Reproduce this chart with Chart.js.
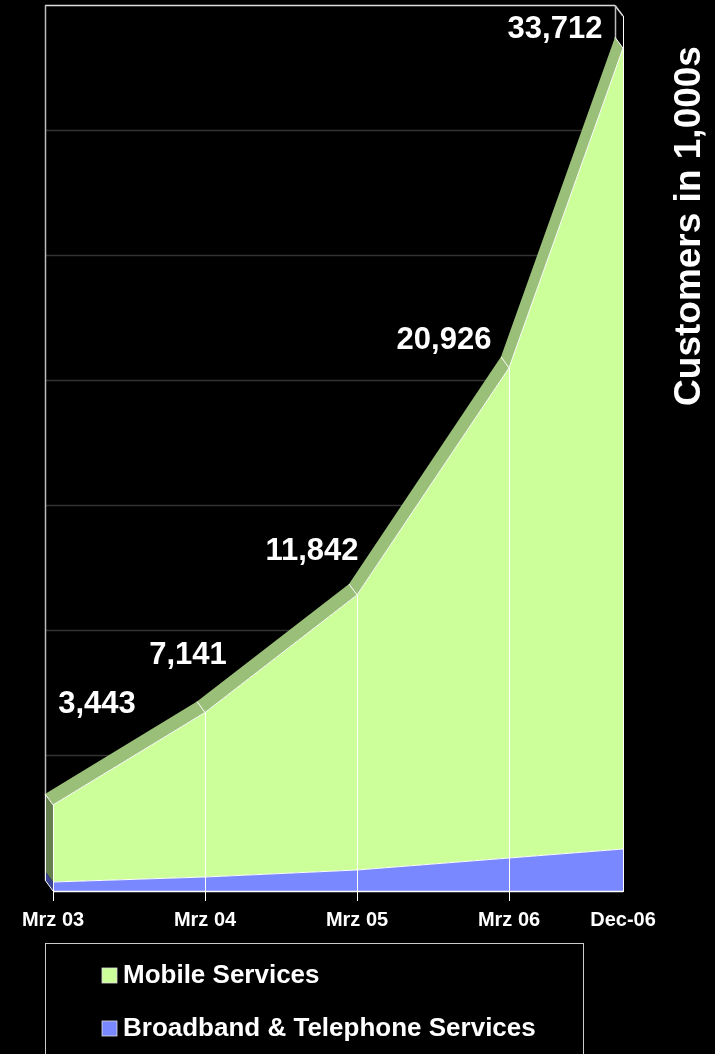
<!DOCTYPE html>
<html>
<head>
<meta charset="utf-8">
<script src="https://cdn.jsdelivr.net/npm/chart.js@4/dist/chart.umd.min.js"></script>
<style>
  html, body { margin: 0; padding: 0; background: #000; }
  #wrap { width: 715px; height: 1054px; }
  canvas { display: block; }
</style>
</head>
<body>
<div id="wrap"><canvas id="c" width="715" height="1054"></canvas></div>
<script>
// Customer figures (in thousands)
const categories = ['Mrz 03', 'Mrz 04', 'Mrz 05', 'Mrz 06', 'Dec-06'];
const monthsSinceMar03 = [0, 12, 24, 36, 45];
const totalCustomers = [3443, 7141, 11842, 20926, 33712];
const broadbandCustomers = [360, 560, 840, 1320, 1680];
const yGridValues = [0, 5000, 10000, 15000, 20000, 25000, 30000, 35000];
const seriesNames = ['Mobile Services', 'Broadband & Telephone Services'];
const axisTitle = 'Customers in 1,000s';

// Styling
const FONT = "'Liberation Sans', Arial, Helvetica, sans-serif";
const COLORS = {
  mobile: '#CCFF99',
  mobileTop: '#9ABF78',
  mobileSide: '#667F4F',
  broadband: '#7A88FF',
  broadbandSide: '#3B4590',
  grid: '#333333',
  wall: '#BBBBBB'
};
const DEPTH = { dx: -8, dy: -11 };
// where each value label sits relative to its data point
const labelShift = [[44, -100], [-17, -57], [-45, -43], [-65, -27], [-68, -19]];

const pts = (vals) => vals.map((v, i) => ({ x: monthsSinceMar03[i], y: v }));

function line(ctx, x1, y1, x2, y2) {
  ctx.beginPath(); ctx.moveTo(x1, y1); ctx.lineTo(x2, y2); ctx.stroke();
}
function poly(ctx, p, fill) {
  ctx.beginPath();
  p.forEach((q, i) => i ? ctx.lineTo(q[0], q[1]) : ctx.moveTo(q[0], q[1]));
  ctx.closePath(); ctx.fillStyle = fill; ctx.fill();
}

const depthPlugin = {
  id: 'depthPlugin',
  beforeDraw(chart) {
    const c = chart.ctx;
    c.save(); c.fillStyle = '#000'; c.fillRect(0, 0, chart.width, chart.height); c.restore();
  },
  beforeDatasetsDraw(chart) {
    const { ctx, scales: { x, y }, chartArea: a } = chart;
    const { dx, dy } = DEPTH;
    ctx.save();
    // back wall grid
    ctx.strokeStyle = COLORS.grid; ctx.lineWidth = 1.5;
    yGridValues.slice(1, -1).forEach(v => {
      const py = Math.round(y.getPixelForValue(v) + dy) + 0.5;
      line(ctx, a.left + dx, py, a.right + dx, py);
    });
    const topBack = Math.round(y.getPixelForValue(yGridValues[yGridValues.length - 1]) + dy) + 0.5;
    const zeroBack = y.getPixelForValue(0) + dy;
    ctx.strokeStyle = '#DDDDDD'; ctx.lineWidth = 1.5;
    line(ctx, a.left + dx, topBack, a.right + dx, topBack);
    line(ctx, a.right + dx, topBack, a.right, a.top);
    ctx.strokeStyle = COLORS.wall;
    line(ctx, a.left + dx + 0.5, topBack, a.left + dx + 0.5, zeroBack);
    line(ctx, a.right + dx + 0.5, topBack, a.right + dx + 0.5, zeroBack);

    // top surface of the stacked area
    const front = totalCustomers.map((v, i) => [x.getPixelForValue(monthsSinceMar03[i]), y.getPixelForValue(v)]);
    const back = front.map(p => [p[0] + dx, p[1] + dy]);
    poly(ctx, back.concat(front.slice().reverse()), COLORS.mobileTop);

    // left side faces
    const xl = x.getPixelForValue(monthsSinceMar03[0]);
    const yt = y.getPixelForValue(totalCustomers[0]);
    const yb = y.getPixelForValue(broadbandCustomers[0]);
    const y0 = y.getPixelForValue(0);
    poly(ctx, [[xl + dx, yt + dy], [xl, yt], [xl, yb], [xl + dx, yb + dy]], COLORS.mobileSide);
    poly(ctx, [[xl + dx, yb + dy], [xl, yb], [xl, y0], [xl + dx, y0 + dy]], COLORS.broadbandSide);
    ctx.restore();
  },
  afterDatasetsDraw(chart) {
    const { ctx, scales: { x, y }, chartArea: a } = chart;
    const { dx, dy } = DEPTH;
    const y0 = y.getPixelForValue(0);
    ctx.save();
    ctx.strokeStyle = '#FFFFFF'; ctx.lineWidth = 1;
    totalCustomers.forEach((v, i) => {
      const px = x.getPixelForValue(monthsSinceMar03[i]);
      const py = y.getPixelForValue(v);
      line(ctx, px + dx, py + dy, px, py);
      const vx = Math.round(px) + 0.5;
      line(ctx, vx, py, vx, y0);
    });
    // left back edge and base corner
    const xl = x.getPixelForValue(monthsSinceMar03[0]);
    const yt = y.getPixelForValue(totalCustomers[0]);
    line(ctx, xl + dx + 0.5, yt + dy, xl + dx + 0.5, y0 + dy);
    line(ctx, xl + dx, y0 + dy, xl, y0);
    // front right edge and baseline
    line(ctx, Math.round(a.right) + 0.5, a.top, Math.round(a.right) + 0.5, y0);
    ctx.lineWidth = 1.5;
    line(ctx, xl, Math.round(y0) + 0.5, a.right, Math.round(y0) + 0.5);

    // value labels
    ctx.fillStyle = '#FFFFFF';
    ctx.font = `bold 31px ${FONT}`;
    ctx.textAlign = 'center'; ctx.textBaseline = 'middle';
    totalCustomers.forEach((v, i) => {
      const px = x.getPixelForValue(monthsSinceMar03[i]);
      const py = y.getPixelForValue(v);
      ctx.fillText(v.toLocaleString('en-US'), px + labelShift[i][0], py + labelShift[i][1]);
    });

    // axis title on the right
    ctx.save();
    ctx.translate(690, 226);
    ctx.rotate(-Math.PI / 2);
    ctx.font = `bold 37px ${FONT}`;
    ctx.fillText(axisTitle, 0, 0);
    ctx.restore();

    // legend box
    ctx.strokeStyle = '#CCCCCC'; ctx.lineWidth = 1;
    ctx.strokeRect(45.5, 943.5, 538, 140);
    const swatch = [COLORS.mobile, COLORS.broadband];
    const rows = [976, 1029];
    ctx.font = `bold 26px ${FONT}`;
    ctx.textAlign = 'left';
    seriesNames.forEach((name, i) => {
      ctx.fillStyle = swatch[i];
      ctx.fillRect(102, rows[i] - 8, 15, 15);
      ctx.strokeStyle = '#DDDDDD'; ctx.lineWidth = 0.8;
      ctx.strokeRect(102, rows[i] - 8, 15, 15);
      ctx.fillStyle = '#FFFFFF';
      ctx.fillText(name, 123, rows[i]);
    });
    ctx.restore();
  }
};

new Chart(document.getElementById('c'), {
  type: 'line',
  data: {
    datasets: [
      {
        label: seriesNames[1],
        data: pts(broadbandCustomers),
        backgroundColor: COLORS.broadband,
        borderColor: '#FFFFFF',
        borderWidth: 1,
        pointRadius: 0,
        fill: 'origin',
        tension: 0
      },
      {
        label: seriesNames[0],
        data: pts(totalCustomers),
        backgroundColor: COLORS.mobile,
        borderColor: '#FFFFFF',
        borderWidth: 1,
        pointRadius: 0,
        fill: '-1',
        tension: 0
      }
    ]
  },
  options: {
    responsive: false,
    devicePixelRatio: 1,
    animation: false,
    layout: { padding: { left: 53, right: 92, top: 16, bottom: 123 } },
    plugins: { legend: { display: false }, tooltip: { enabled: false } },
    scales: {
      x: {
        type: 'linear',
        min: monthsSinceMar03[0],
        max: monthsSinceMar03[monthsSinceMar03.length - 1],
        afterBuildTicks: (s) => { s.ticks = monthsSinceMar03.map(v => ({ value: v })); },
        afterFit: (s) => { s.height = 40; },
        ticks: {
          autoSkip: false, maxRotation: 0, padding: 7, color: '#FFFFFF',
          font: { family: FONT, size: 20, weight: 'bold' },
          callback: (v) => categories[monthsSinceMar03.indexOf(v)]
        },
        grid: {
          drawOnChartArea: false, drawTicks: true, tickLength: 10,
          color: (c) => c.index === monthsSinceMar03.length - 1 ? 'rgba(0,0,0,0)' : '#FFFFFF'
        },
        border: { display: true, color: '#FFFFFF', width: 1 }
      },
      y: {
        display: false,
        min: yGridValues[0],
        max: yGridValues[yGridValues.length - 1]
      }
    }
  },
  plugins: [depthPlugin]
});
</script>
</body>
</html>
